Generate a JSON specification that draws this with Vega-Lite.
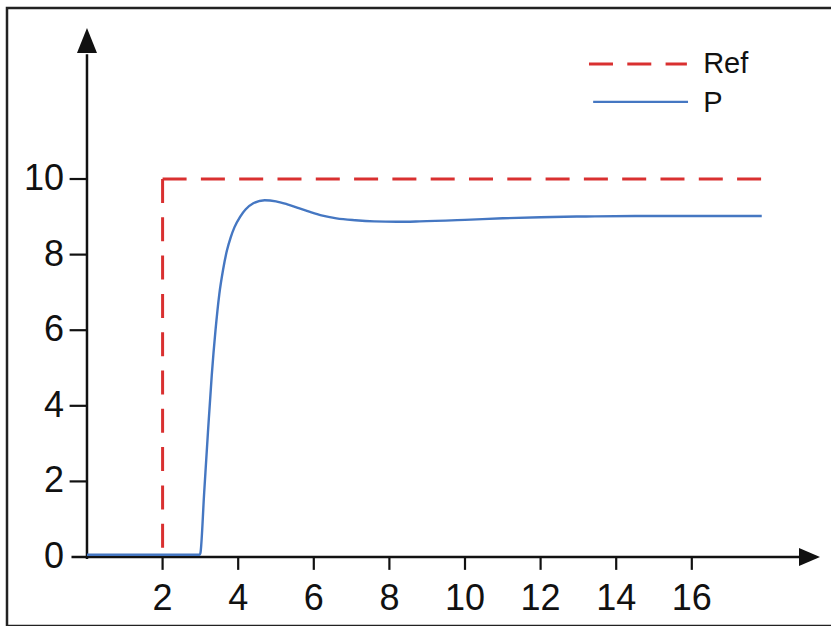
{
  "$schema": "https://vega.github.io/schema/vega-lite/v6.json",
  "width": 830,
  "height": 618,
  "autosize": {"type": "none"},
  "padding": {"left": 7, "top": 8, "right": 0, "bottom": 0},
  "background": "white",
  "config": {"view": {"stroke": "#222222", "strokeWidth": 2.5}},
  "datasets": {
    "ref": [
      {"seg": "v", "o": 0, "x": 2, "y": 10},
      {"seg": "v", "o": 1, "x": 2, "y": 0},
      {"seg": "h", "o": 0, "x": 2, "y": 10},
      {"seg": "h", "o": 1, "x": 18.02, "y": 10}
    ],
    "p": [
      {"x": 0, "y": 0.06}, {"x": 2.98, "y": 0.06}, {"x": 3.0, "y": 0.1},
      {"x": 3.1, "y": 1.7}, {"x": 3.2, "y": 3.3}, {"x": 3.3, "y": 4.8},
      {"x": 3.4, "y": 6.0}, {"x": 3.5, "y": 6.95}, {"x": 3.6, "y": 7.6},
      {"x": 3.7, "y": 8.1}, {"x": 3.8, "y": 8.45}, {"x": 3.9, "y": 8.72},
      {"x": 4.05, "y": 9.0}, {"x": 4.2, "y": 9.2}, {"x": 4.4, "y": 9.36},
      {"x": 4.7, "y": 9.44}, {"x": 5.0, "y": 9.41}, {"x": 5.3, "y": 9.33},
      {"x": 5.6, "y": 9.23}, {"x": 5.9, "y": 9.13}, {"x": 6.2, "y": 9.04},
      {"x": 6.6, "y": 8.96}, {"x": 7.1, "y": 8.91}, {"x": 7.6, "y": 8.88},
      {"x": 8.2, "y": 8.87}, {"x": 8.8, "y": 8.88}, {"x": 10.0, "y": 8.92},
      {"x": 11.0, "y": 8.96}, {"x": 12.0, "y": 8.99}, {"x": 13.2, "y": 9.01},
      {"x": 14.5, "y": 9.02}, {"x": 16.0, "y": 9.02}, {"x": 17.85, "y": 9.02}
    ],
    "xticks": [{"v": 2}, {"v": 4}, {"v": 6}, {"v": 8}, {"v": 10}, {"v": 12}, {"v": 14}, {"v": 16}],
    "yticks": [{"v": 2}, {"v": 4}, {"v": 6}, {"v": 8}, {"v": 10}],
    "ylabels": [{"v": 0}, {"v": 2}, {"v": 4}, {"v": 6}, {"v": 8}, {"v": 10}],
    "legend": [{"label": "Ref"}, {"label": "P"}]
  },
  "layer": [
    {
      "data": {"values": [{"axis": "x"}]},
      "mark": {"type": "rule", "color": "#111111", "strokeWidth": 2.5},
      "encoding": {
        "x": {"datum": -0.41, "type": "quantitative", "scale": {"domain": [-2.116, 19.841], "nice": false, "zero": false}, "axis": null},
        "x2": {"datum": 18.9},
        "y": {"datum": 0, "type": "quantitative", "scale": {"domain": [-1.825, 14.524], "nice": false, "zero": false}, "axis": null}
      }
    },
    {
      "data": {"values": [{"axis": "y"}]},
      "mark": {"type": "rule", "color": "#111111", "strokeWidth": 2.5},
      "encoding": {
        "x": {"datum": 0, "type": "quantitative"},
        "y": {"datum": -0.05, "type": "quantitative"},
        "y2": {"datum": 13.3}
      }
    },
    {
      "data": {"name": "xticks"},
      "mark": {"type": "rule", "color": "#111111", "strokeWidth": 2.2},
      "encoding": {
        "x": {"field": "v", "type": "quantitative"},
        "y": {"datum": 0, "type": "quantitative"},
        "y2": {"datum": -0.34}
      }
    },
    {
      "data": {"name": "yticks"},
      "mark": {"type": "rule", "color": "#111111", "strokeWidth": 2.2},
      "encoding": {
        "y": {"field": "v", "type": "quantitative"},
        "x": {"datum": -0.46, "type": "quantitative"},
        "x2": {"datum": 0}
      }
    },
    {
      "data": {"values": [{"arrow": "y"}]},
      "mark": {"type": "point", "shape": "M0,-1L0.8,1L-0.8,1Z", "filled": true, "color": "#111111", "opacity": 1, "size": 625, "strokeWidth": 0},
      "encoding": {
        "x": {"datum": 0, "type": "quantitative"},
        "y": {"datum": 13.664, "type": "quantitative"}
      }
    },
    {
      "data": {"values": [{"arrow": "x"}]},
      "mark": {"type": "point", "shape": "M1,0L-1,0.857L-1,-0.857Z", "filled": true, "color": "#111111", "opacity": 1, "size": 441, "strokeWidth": 0},
      "encoding": {
        "x": {"datum": 19.114, "type": "quantitative"},
        "y": {"datum": 0, "type": "quantitative"}
      }
    },
    {
      "data": {"name": "ref"},
      "mark": {"type": "line", "color": "#d93030", "strokeWidth": 3, "strokeDash": [24, 14.3]},
      "encoding": {
        "x": {"field": "x", "type": "quantitative"},
        "y": {"field": "y", "type": "quantitative"},
        "detail": {"field": "seg"},
        "order": {"field": "o"}
      }
    },
    {
      "data": {"name": "p"},
      "mark": {"type": "line", "color": "#4577c2", "strokeWidth": 2.4, "interpolate": "monotone"},
      "encoding": {
        "x": {"field": "x", "type": "quantitative"},
        "y": {"field": "y", "type": "quantitative"}
      }
    },
    {
      "data": {"name": "ylabels"},
      "mark": {"type": "text", "font": "Liberation Sans", "fontSize": 36, "color": "#111111", "align": "right", "baseline": "middle"},
      "encoding": {
        "x": {"datum": -0.61, "type": "quantitative"},
        "y": {"field": "v", "type": "quantitative"},
        "text": {"field": "v", "type": "quantitative"}
      }
    },
    {
      "data": {"name": "xticks"},
      "mark": {"type": "text", "font": "Liberation Sans", "fontSize": 36, "color": "#111111", "align": "center", "baseline": "alphabetic"},
      "encoding": {
        "x": {"field": "v", "type": "quantitative"},
        "y": {"datum": -1.4, "type": "quantitative"},
        "text": {"field": "v", "type": "quantitative"}
      }
    },
    {
      "data": {"values": [{"item": "Ref"}]},
      "mark": {"type": "rule", "color": "#d93030", "strokeWidth": 3, "strokeDash": [24, 14.3]},
      "encoding": {
        "x": {"datum": 13.28, "type": "quantitative"},
        "x2": {"datum": 15.87},
        "y": {"datum": 13.04, "type": "quantitative"}
      }
    },
    {
      "data": {"values": [{"item": "P"}]},
      "mark": {"type": "rule", "color": "#4577c2", "strokeWidth": 2.4},
      "encoding": {
        "x": {"datum": 13.39, "type": "quantitative"},
        "x2": {"datum": 15.9},
        "y": {"datum": 12.04, "type": "quantitative"}
      }
    },
    {
      "data": {"name": "legend"},
      "transform": [{"filter": "datum.label === 'Ref'"}],
      "mark": {"type": "text", "font": "Liberation Sans", "fontSize": 29, "color": "#111111", "align": "left", "baseline": "alphabetic"},
      "encoding": {
        "x": {"datum": 16.3, "type": "quantitative"},
        "y": {"datum": 12.804, "type": "quantitative"},
        "text": {"field": "label"}
      }
    },
    {
      "data": {"name": "legend"},
      "transform": [{"filter": "datum.label === 'P'"}],
      "mark": {"type": "text", "font": "Liberation Sans", "fontSize": 29, "color": "#111111", "align": "left", "baseline": "alphabetic"},
      "encoding": {
        "x": {"datum": 16.3, "type": "quantitative"},
        "y": {"datum": 11.772, "type": "quantitative"},
        "text": {"field": "label"}
      }
    }
  ]
}
